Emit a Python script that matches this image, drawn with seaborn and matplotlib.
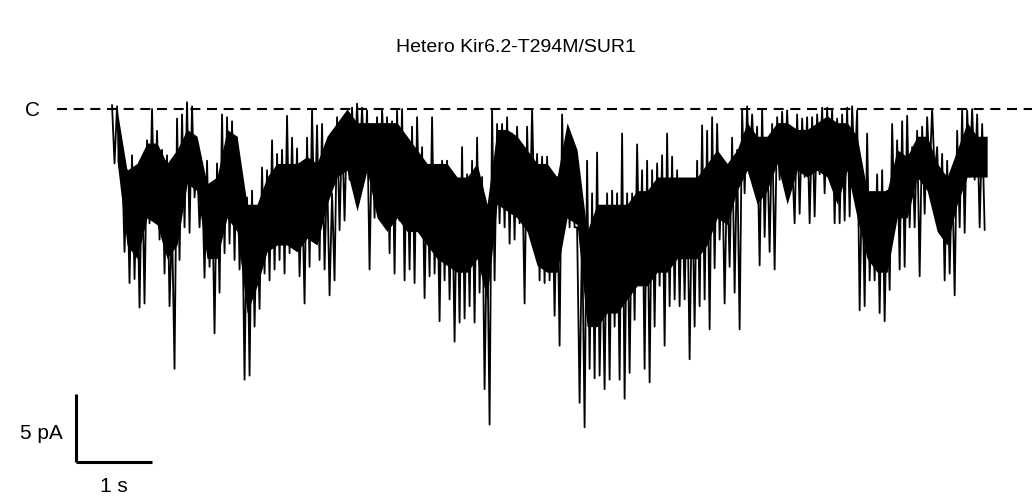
import numpy as np
import matplotlib
matplotlib.use("Agg")
import matplotlib.pyplot as plt
import seaborn as sns

# single-channel recording in 5 px bins (~0.066 s)
title = "Hetero Kir6.2-T294M/SUR1"
closed_label = "C"
bin_s = 0.0658
core_s = 0.1316

# most positive excursion in each bin (pA)
upper_pa = [
    0.3, 0.2, -3.5, -4.5, -3.4, -4.8, -4.0, -2.3, 0.0, -1.6,
    -3.0, -3.4, -8.4, -0.7, -0.4, 0.5, 0.2, -3.8, -5.0, -3.8,
    -5.5, -4.0, -0.4, -0.6, -0.9, -2.1, -6.2, -6.5, -6.0,
    -7.5, -4.3, -4.5, -2.3, -3.3, -3.0, -0.5, -2.1, -2.9, -5.7,
    -2.1, -0.1, -1.2, -1.1, -4.5, -6.2, -0.6, -1.3, -0.9, 0.1,
    0.4, 0.1, -0.1, -1.3, -0.6, 0.0, -0.6, -0.9, -0.1, 0.0,
    -2.1, -1.3, -0.6, -2.8, -4.3, -0.6, -4.5, -3.8, -3.8, -5.5,
    -5.2, -2.8, -4.8, -3.8, -2.1, -5.0, -7.9, -0.1, -1.1, -1.1,
    -0.6, -1.8, -1.3, -3.8, -1.3, 0.0, -3.3, -3.5, -3.5, -5.0,
    -5.0, -0.4, -2.6, -4.0, -8.7, -8.7, -3.8, -6.2, -3.2, -10.1,
    -6.2, -6.0, -6.2, -1.8, -6.2, -6.2, -2.6, -4.5, -3.8, -4.5,
    -4.0, -3.4, -1.8, -3.5, -4.5, -5.2, -5.2, -5.5, -3.8, -1.2,
    -1.6, -0.6, -1.1, -3.8, -4.3, -2.1, -3.0, -0.1, 0.2, -0.4,
    -1.3, 0.0, -2.3, -1.1, -0.6, -0.2, -0.1, -3.8, -0.4, -0.7,
    -0.6, -0.6, -0.4, 0.1, 0.1, 0.0, -0.7, -0.4, 0.1, 0.2,
    -0.1, -4.5, -1.8, -6.7, -4.8, -4.5, -6.0, -1.1, -2.3, -0.9,
    -0.5, -2.8, -1.6, -1.3, -0.6, 0.0, -2.8, -3.3, -3.8, -4.5,
    -1.6, -0.1, -0.1, 0.0, -0.4, -1.1,
]

# most negative excursion in each bin (pA)
lower_pa = [
    -4.0, -4.3, -10.5, -12.8, -12.5, -14.6, -14.3, -8.4, -8.2, -9.6,
    -12.1, -14.5, -19.1, -11.1, -8.7, -9.1, -6.5, -8.7, -12.4, -11.6,
    -16.5, -13.5, -10.6, -9.9, -11.1, -11.8, -19.9, -19.6, -16.0,
    -14.7, -12.1, -12.6, -11.8, -11.1, -12.1, -10.6, -10.1, -12.3, -14.3,
    -11.6, -9.1, -11.1, -11.8, -13.7, -12.6, -8.9, -8.2, -5.2, -4.8,
    -4.6, -4.6, -11.8, -8.0, -7.9, -4.3, -10.6, -12.1, -8.2, -12.6,
    -11.8, -12.8, -8.4, -13.9, -12.3, -12.1, -15.6, -12.6, -14.0, -17.1,
    -15.7, -15.4, -14.5, -15.7, -13.5, -20.6, -23.2, -12.6, -8.4, -8.7,
    -9.9, -9.6, -8.4, -14.3, -9.1, -8.2, -12.6, -12.8, -12.6, -15.2,
    -17.4, -8.7, -8.7, -8.7, -21.6, -23.4, -19.1, -19.8, -19.6, -20.6,
    -19.9, -16.0, -19.9, -21.3, -19.4, -15.5, -12.1, -19.1, -20.1, -16.0,
    -13.0, -17.4, -14.5, -14.0, -14.5, -14.0, -18.4, -16.0, -14.5, -14.0,
    -16.2, -11.7, -9.6, -14.3, -11.6, -13.5, -16.2, -6.2, -4.8, -4.8,
    -11.5, -9.4, -10.5, -11.8, -5.2, -5.0, -5.0, -8.4, -7.7, -5.0,
    -8.4, -7.9, -4.8, -6.2, -4.5, -8.4, -8.4, -8.2, -7.9, -4.5,
    -14.8, -14.5, -12.6, -12.6, -15.0, -15.6, -13.3, -8.7, -11.8, -11.6,
    -8.7, -8.7, -12.3, -7.7, -4.8, -4.8, -8.4, -12.6, -12.1, -13.7,
    -8.7, -9.1, -5.0, -5.2, -8.7, -8.9,
]

# dense (solid black) part of the trace, 10 px bins (pA)
core_hi_pa = [
    0.0, -4.5, -4.0, -2.5, -2.5, -4.0, -3.0, -1.5, -2.0, -5.5,
    -5.0, -1.5, -2.0, -7.0, -7.0,
    -5.0, -4.0, -4.0, -4.0, -3.5, -4.0, -2.0, -1.0, 0.0, -1.0,
    -1.0, -1.0, -1.0, -1.0, -2.0,
    -3.0, -4.0, -4.0, -4.0, -5.0, -5.0, -4.0, -7.0, -1.5, -1.5,
    -2.0, -3.0, -4.0, -4.0, -5.0,
    -1.0, -3.0, -9.0, -7.0, -7.0, -7.0, -7.0, -6.0, -6.0, -5.0,
    -5.0, -5.0, -5.0, -5.0, -4.0,
    -3.0, -4.0, -3.0, -1.0, -2.0, -2.0, -1.0, -1.0, -1.5, -1.5,
    -1.0, -0.5, -1.0, -1.0, -2.0,
    -6.0, -6.0, -6.0, -3.0, -3.5, -2.0, -2.0, -4.0, -5.0, -3.0,
    -1.0, -2.0, -2.0,
]
core_lo_pa = [
    -3.8, -10.0, -11.0, -8.0, -8.5, -11.0, -10.0, -5.5, -6.0, -11.0,
    -11.0, -8.0, -9.0, -15.0, -13.0,
    -10.5, -10.0, -10.0, -10.5, -9.5, -10.0, -7.0, -5.0, -4.5, -7.5,
    -4.5, -8.0, -9.0, -8.0, -9.0,
    -9.0, -10.0, -11.0, -11.5, -12.0, -12.0, -11.0, -14.0, -7.0, -7.5,
    -8.0, -9.0, -11.5, -12.0, -12.0,
    -8.0, -8.5, -16.0, -16.0, -15.0, -15.0, -14.0, -13.0, -13.0, -12.0,
    -12.0, -11.0, -11.0, -11.0, -10.0,
    -8.0, -8.5, -6.0, -4.5, -7.0, -6.0, -4.0, -7.0, -4.5, -5.0,
    -4.5, -5.0, -7.0, -4.5, -8.0,
    -11.0, -12.0, -12.0, -8.0, -8.0, -5.0, -6.0, -9.0, -10.0, -7.0,
    -5.0, -5.0, -5.0,
]

closed_pa = 0.0
scale_pa = 5
scale_s = 1

sns.set_style("white")
plt.rcParams["font.family"] = ["Liberation Sans", "DejaVu Sans"]
plt.rcParams["text.color"] = "black"

# interleave the two envelopes so the line zigzags like the raw trace
n = len(upper_pa)
t = np.empty(2 * n)
t[0::2] = np.arange(n) * bin_s
t[1::2] = (np.arange(n) + 0.5) * bin_s
current = np.empty(2 * n)
current[0::2] = upper_pa
current[1::2] = lower_pa
t_core = (np.arange(len(core_hi_pa)) + 0.5) * core_s

fig = plt.figure(figsize=(10.32, 5.02), dpi=100)
ax = fig.add_axes([0, 0, 1, 1])
ax.fill_between(t_core, core_lo_pa, core_hi_pa, color="black", lw=0)
sns.lineplot(x=t, y=current, ax=ax, color="black", lw=1.3,
             estimator=None, sort=False)

# closed level
ax.axhline(closed_pa, xmin=57 / 1032, color="black", lw=1.5,
           linestyle=(0, (4.8, 3.2)))
ax.text(-1.04, closed_pa, closed_label, ha="center", va="center", fontsize=15)

# scale bar
bar_t, bar_i = -0.474, -25.96
ax.plot([bar_t, bar_t], [bar_i, bar_i + scale_pa], color="black", lw=2.2,
        solid_capstyle="butt")
ax.plot([bar_t, bar_t + scale_s], [bar_i, bar_i], color="black", lw=2.2,
        solid_capstyle="butt")
ax.text(bar_t - 0.17, bar_i + 2.2, f"{scale_pa} pA", ha="right", va="center",
        fontsize=15)
ax.text(bar_t + scale_s / 2, bar_i - 1.7, f"{scale_s} s", ha="center",
        va="center", fontsize=15)

ax.set_xlim(-1.474, 12.105)
ax.set_ylim(-28.82, 8.09)
ax.axis("off")

fig.text(0.5, 1 - 48 / 502, title, ha="center", va="center", fontsize=14)

fig.savefig("out.png", dpi=100)
